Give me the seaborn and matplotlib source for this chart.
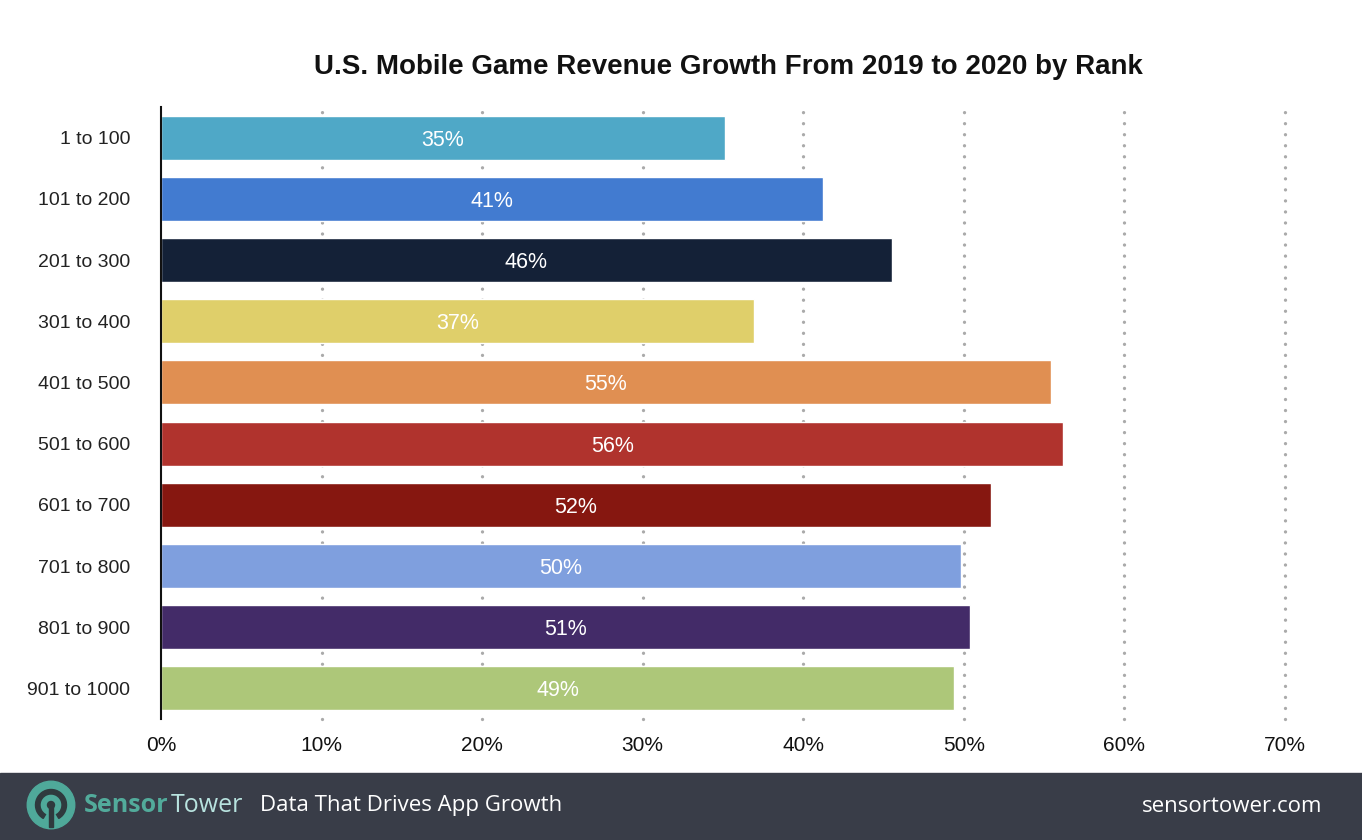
import matplotlib
matplotlib.use("Agg")
import matplotlib.pyplot as plt
import seaborn as sns
import pandas as pd
from matplotlib.patches import Rectangle, Circle, Wedge

# chart data
ranks = ["1 to 100", "101 to 200", "201 to 300", "301 to 400", "401 to 500",
         "501 to 600", "601 to 700", "701 to 800", "801 to 900", "901 to 1000"]
growth = [35.1, 41.2, 45.5, 36.9, 55.4, 56.2, 51.7, 49.8, 50.4, 49.4]
labels = ["35%", "41%", "46%", "37%", "55%", "56%", "52%", "50%", "51%", "49%"]
bar_colors = ["#4fa8c7", "#427bd0", "#142137", "#dfcf6a", "#e08f52",
              "#b0332d", "#861710", "#7f9fde", "#432b68", "#adc779"]
x_ticks = [0, 10, 20, 30, 40, 50, 60, 70]

df = pd.DataFrame({"rank": ranks, "growth": growth})

sns.set_style("white")
plt.rcParams["font.family"] = ["Liberation Sans", "DejaVu Sans"]

fig = plt.figure(figsize=(13.62, 8.4), dpi=100)
ax = fig.add_axes([0.1182, 0.144, 0.8253, 0.7286])

sns.barplot(data=df, x="growth", y="rank", hue="rank", palette=bar_colors,
            legend=False, width=0.72, saturation=1, ax=ax)

ax.set_axisbelow(True)
for t in x_ticks[1:]:
    ax.axvline(t, color="#aaaaaa", lw=2.4, linestyle=(0, (0.01, 3.3)),
               dash_capstyle="round", zorder=0, clip_on=False)

for i, (v, lab) in enumerate(zip(growth, labels)):
    ax.text(v / 2, i, lab, ha="center", va="center_baseline", color="white",
            fontsize=15.5)

ax.set_xlim(0, 70)
ax.set_xticks(x_ticks)
ax.set_xticklabels([f"{t}%" for t in x_ticks])
ax.set_xlabel("")
ax.set_ylabel("")
ax.tick_params(axis="x", length=0, pad=12, labelsize=15, colors="#111111")
ax.tick_params(axis="y", length=0, pad=22, labelsize=14, colors="#222222")
for s in ["top", "right", "bottom"]:
    ax.spines[s].set_visible(False)
ax.spines["left"].set_color("#111111")
ax.spines["left"].set_linewidth(1.5)

fig.text(0.535, 0.92, "U.S. Mobile Game Revenue Growth From 2019 to 2020 by Rank",
         ha="center", va="center", fontsize=20, fontweight="bold", color="#111111")

# footer band
fig.patches.append(Rectangle((0, 0), 1, 67 / 840, transform=fig.transFigure,
                             color="#393d48", zorder=-1))
W, H = 1362, 840
fy = 1 - 806 / H
teal = "#4fa99a"
logo = fig.add_axes([(51 - 25) / W, 1 - (805 + 25) / H, 50 / W, 50 / H])
logo.set_zorder(5)
logo.set_xlim(-1, 1)
logo.set_ylim(-1, 1)
logo.set_aspect("equal")
logo.axis("off")
logo.add_patch(Circle((0, 0), 0.95, color=teal))
logo.add_patch(Wedge((0, 0), 0.62, -60, 240, width=0.18, color="#2f3a3e"))
logo.add_patch(Rectangle((-0.07, -0.88), 0.14, 0.88, color="#2f3a3e"))
logo.add_patch(Circle((0, 0), 0.14, color="#2f3a3e"))

fig.text(84 / W, fy, "Sensor", ha="left", va="center", fontsize=18,
         fontweight="bold", color="#52ab9b", family=["Open Sans", "DejaVu Sans"])
fig.text(171 / W, fy, "Tower", ha="left", va="center", fontsize=18,
         color="#b8e3df", family=["Open Sans", "DejaVu Sans"])
fig.text(260 / W, fy, "Data That Drives App Growth", ha="left", va="center",
         fontsize=16, color="white", family=["Open Sans", "DejaVu Sans"])
fig.text(1322 / W, fy, "sensortower.com", ha="right", va="center",
         fontsize=16, color="white", family=["Open Sans", "DejaVu Sans"])

fig.savefig("out.png", dpi=100, facecolor="white")
